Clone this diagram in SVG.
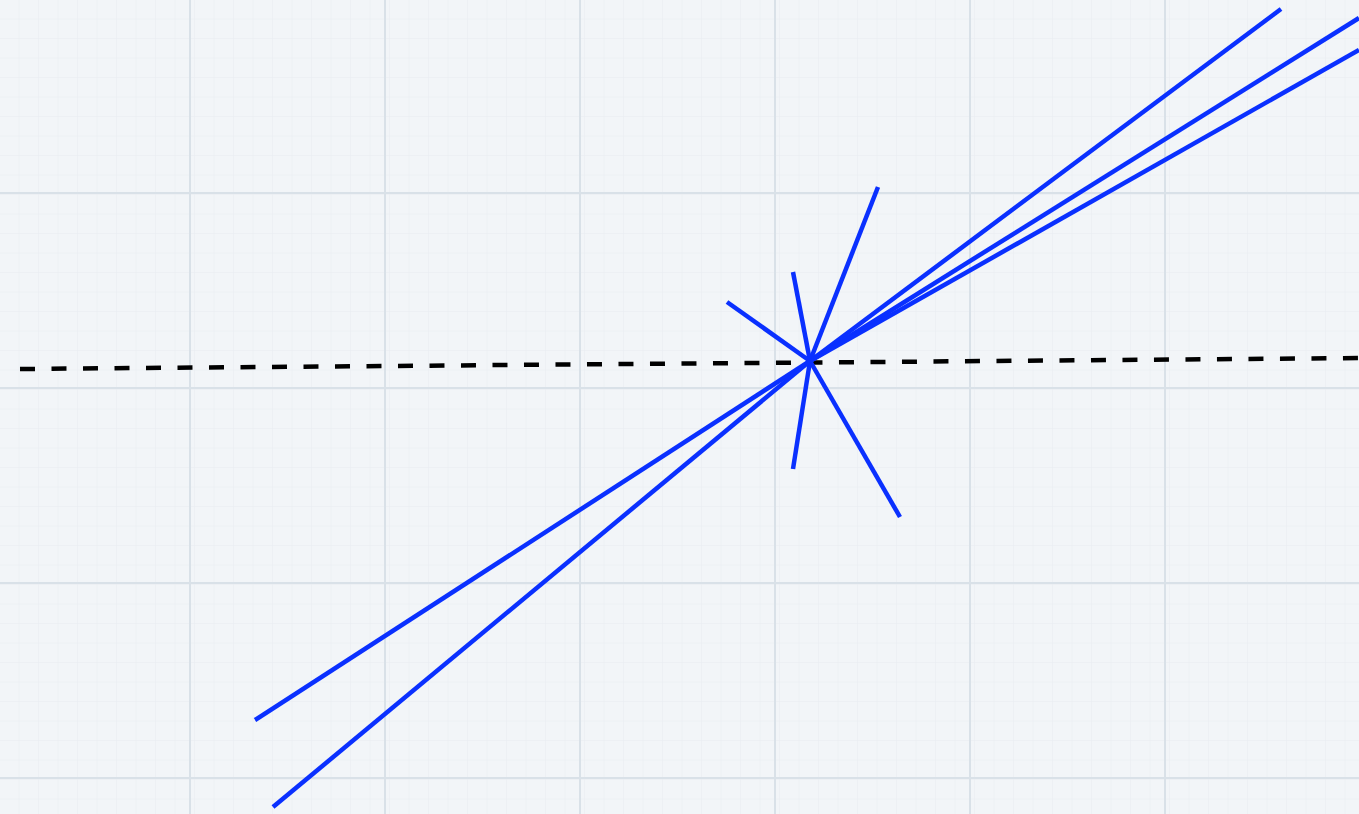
<svg xmlns="http://www.w3.org/2000/svg" width="1359" height="814" viewBox="0 0 1359 814">
<defs>
<style>
.minor{stroke:#e3e8ee;stroke-width:1}
.major{stroke:#d9e1e8;stroke-width:2}
.ray{stroke:#0a30ff;stroke-width:4.5;stroke-linecap:butt;fill:none}
.axis{stroke:#000;stroke-width:4.5;stroke-dasharray:15 16.5;fill:none}
</style>
<pattern id="mg" x="0" y="0" width="19.5" height="19.5" patternUnits="userSpaceOnUse">
<path d="M19.5 0V19.5M0 19.5H19.5" class="minor" fill="none"/>
</pattern>
</defs>
<rect width="1359" height="814" fill="#f2f5f8"/>
<rect width="1359" height="814" fill="url(#mg)" opacity="0.7"/>
<g id="grid" class="major">
<line x1="190" y1="0" x2="190" y2="814"/>
<line x1="385" y1="0" x2="385" y2="814"/>
<line x1="580" y1="0" x2="580" y2="814"/>
<line x1="775" y1="0" x2="775" y2="814"/>
<line x1="970" y1="0" x2="970" y2="814"/>
<line x1="1165" y1="0" x2="1165" y2="814"/>
<line x1="0" y1="193" x2="1359" y2="193"/>
<line x1="0" y1="388" x2="1359" y2="388"/>
<line x1="0" y1="583" x2="1359" y2="583"/>
<line x1="0" y1="778" x2="1359" y2="778"/>
</g>
<g id="axis">
<line class="axis" x1="20" y1="369" x2="1359" y2="358"/>
</g>
<g id="rays" class="ray">
<line x1="810" y1="361" x2="1281" y2="9"/>
<line x1="810" y1="361" x2="1359" y2="18"/>
<line x1="810" y1="361" x2="1359" y2="50"/>
<line x1="810" y1="361" x2="878" y2="187"/>
<line x1="810" y1="361" x2="793" y2="272"/>
<line x1="810" y1="361" x2="727" y2="302"/>
<line x1="810" y1="361" x2="793" y2="469"/>
<line x1="810" y1="361" x2="900" y2="517"/>
<line x1="810" y1="361" x2="255" y2="720"/>
<line x1="810" y1="361" x2="273" y2="807"/>
</g>
</svg>
